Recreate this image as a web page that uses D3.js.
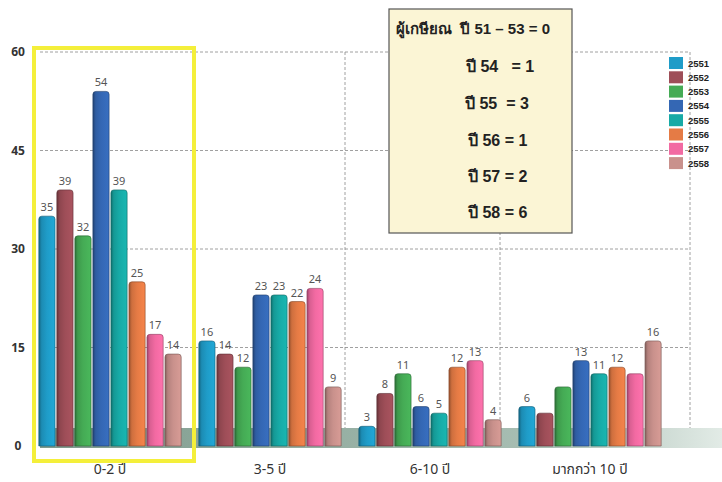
<!DOCTYPE html>
<html><head><meta charset="utf-8">
<script src="https://cdn.jsdelivr.net/npm/d3@7"></script>
<style>body{margin:0;background:#fff}svg{display:block}text{white-space:pre}</style>
</head><body><svg id="c" width="722" height="482"></svg>
<script>
const categories = ["0-2 ปี", "3-5 ปี", "6-10 ปี", "มากกว่า 10 ปี"];
const seriesNames = ["2551","2552","2553","2554","2555","2556","2557","2558"];
const values = {
  "2551": [35, 16, 3, 6],
  "2552": [39, 14, 8, 5],
  "2553": [32, 12, 11, 9],
  "2554": [54, 23, 6, 13],
  "2555": [39, 23, 5, 11],
  "2556": [25, 22, 12, 12],
  "2557": [17, 24, 13, 11],
  "2558": [14, 9, 4, 16]
};
const showLabel = {
  "2551": [true, true, true, true],
  "2552": [true, true, true, false],
  "2553": [true, true, true, false],
  "2554": [true, true, true, true],
  "2555": [true, true, true, true],
  "2556": [true, true, true, true],
  "2557": [true, true, true, false],
  "2558": [true, true, true, true]
};
const colors = ["#1f9cc8","#9e4e58","#45ab55","#3467b4","#17aaa6","#e57b45","#f26aa2","#c9918c"];
const yTicks = [0, 15, 30, 45, 60];
const noteLines = ["ผู้เกษียณ  ปี 51 – 53 = 0", "ปี 54   = 1", "ปี 55  = 3", "ปี 56 = 1", "ปี 57 = 2", "ปี 58 = 6"];

const svg = d3.select("#c");
const font = "'Noto Sans Thai','Noto Sans','DejaVu Sans',sans-serif";
const y = d3.scaleLinear().domain([0, 60]).range([446, 52]);
const x0 = d3.scaleBand().domain(categories).range([30, 670]).paddingInner(0.11).paddingOuter(0.055);
const x1 = d3.scaleBand().domain(seriesNames).range([0, x0.bandwidth()]).paddingInner(0.1);

const defs = svg.append("defs");
seriesNames.forEach((s, i) => {
  const c = d3.color(colors[i]);
  const g = defs.append("linearGradient").attr("id", "g" + i).attr("x1", 0).attr("x2", 1).attr("y1", 0).attr("y2", 0);
  g.append("stop").attr("offset", 0).attr("stop-color", c.darker(1.2));
  g.append("stop").attr("offset", 0.18).attr("stop-color", c.darker(0.3));
  g.append("stop").attr("offset", 0.5).attr("stop-color", c);
  g.append("stop").attr("offset", 1).attr("stop-color", c.brighter(0.2));
});
const fg = defs.append("linearGradient").attr("id", "floor").attr("x1", 0).attr("x2", 1);
fg.append("stop").attr("offset", 0).attr("stop-color", "#7d9a8c");
fg.append("stop").attr("offset", 0.75).attr("stop-color", "#a9bfb4");
fg.append("stop").attr("offset", 1).attr("stop-color", "#e2ebe6");

// floor band
svg.append("rect").attr("x", 40).attr("y", 428).attr("width", 682).attr("height", 20).attr("fill", "url(#floor)");

// grid
const grid = svg.append("g").attr("stroke", "#888").attr("stroke-dasharray", "3,2").attr("stroke-width", 0.8);
yTicks.slice(1).forEach(t => {
  grid.append("line").attr("x1", 40).attr("x2", 690).attr("y1", y(t)).attr("y2", y(t));
});
[193, 345, 500, 690].forEach(xv => {
  grid.append("line").attr("x1", xv).attr("x2", xv).attr("y1", y(60)).attr("y2", 428);
});

// y labels
svg.append("g").selectAll("text").data(yTicks).join("text")
  .attr("x", 18).attr("y", d => y(d) + 4).attr("text-anchor", "middle")
  .attr("font-family", font).attr("font-size", 12).attr("font-weight", "bold").attr("fill", "#333")
  .text(d => d);

// bars
const groups = svg.append("g").selectAll("g").data(categories).join("g")
  .attr("transform", d => `translate(${x0(d)},0)`);
groups.each(function(cat, ci) {
  const g = d3.select(this);
  seriesNames.forEach((s, si) => {
    const v = values[s][ci];
    const bx = x1(s), bw = x1.bandwidth(), top = y(v);
    g.append("path")
      .attr("d", `M${bx},446 V${top + 3} Q${bx},${top} ${bx + 3},${top} H${bx + bw - 3} Q${bx + bw},${top} ${bx + bw},${top + 3} V446 Z`)
      .attr("fill", `url(#g${si})`)
      .attr("stroke", d3.color(colors[si]).darker(1.5)).attr("stroke-width", 0.6);
    if (showLabel[s][ci]) {
      g.append("text").attr("x", bx + bw / 2).attr("y", top - 5).attr("text-anchor", "middle")
        .attr("font-family", font).attr("font-size", 11).attr("fill", "#555").text(v);
    }
  });
});

// x labels
svg.append("g").selectAll("text").data(categories).join("text")
  .attr("x", d => x0(d) + x0.bandwidth() / 2).attr("y", 474).attr("text-anchor", "middle")
  .attr("font-family", font).attr("font-size", 14).attr("fill", "#333").text(d => d);

// yellow highlight
svg.append("rect").attr("x", 34).attr("y", 48).attr("width", 160).attr("height", 413)
  .attr("fill", "none").attr("stroke", "#f4ef3a").attr("stroke-width", 4);

// legend
const lg = svg.append("g").attr("transform", "translate(669,57)");
seriesNames.forEach((s, i) => {
  lg.append("rect").attr("x", 0).attr("y", i * 14.3).attr("width", 14).attr("height", 12).attr("fill", colors[i]);
  lg.append("text").attr("x", 19).attr("y", i * 14.3 + 9.5).attr("font-family", "'Liberation Sans',sans-serif").attr("font-size", 9.5)
    .attr("font-weight", "bold").attr("fill", "#222").text(s);
});

// note box
svg.append("rect").attr("x", 389).attr("y", 9).attr("width", 183).attr("height", 224)
  .attr("fill", "#fbf5d5").attr("stroke", "#555").attr("stroke-width", 1.2);
const nx = [396, 466, 465, 468, 468, 468];
const ny = [34, 72, 109, 146, 182, 218];
noteLines.forEach((t, i) => {
  svg.append("text").attr("x", nx[i]).attr("y", ny[i]).attr("font-family", "'Liberation Sans Narrow','Liberation Sans',sans-serif")
    .attr("font-size", i === 0 ? 15 : 16).attr("font-weight", "bold").attr("fill", "#222").text(t);
});
</script></body></html>
